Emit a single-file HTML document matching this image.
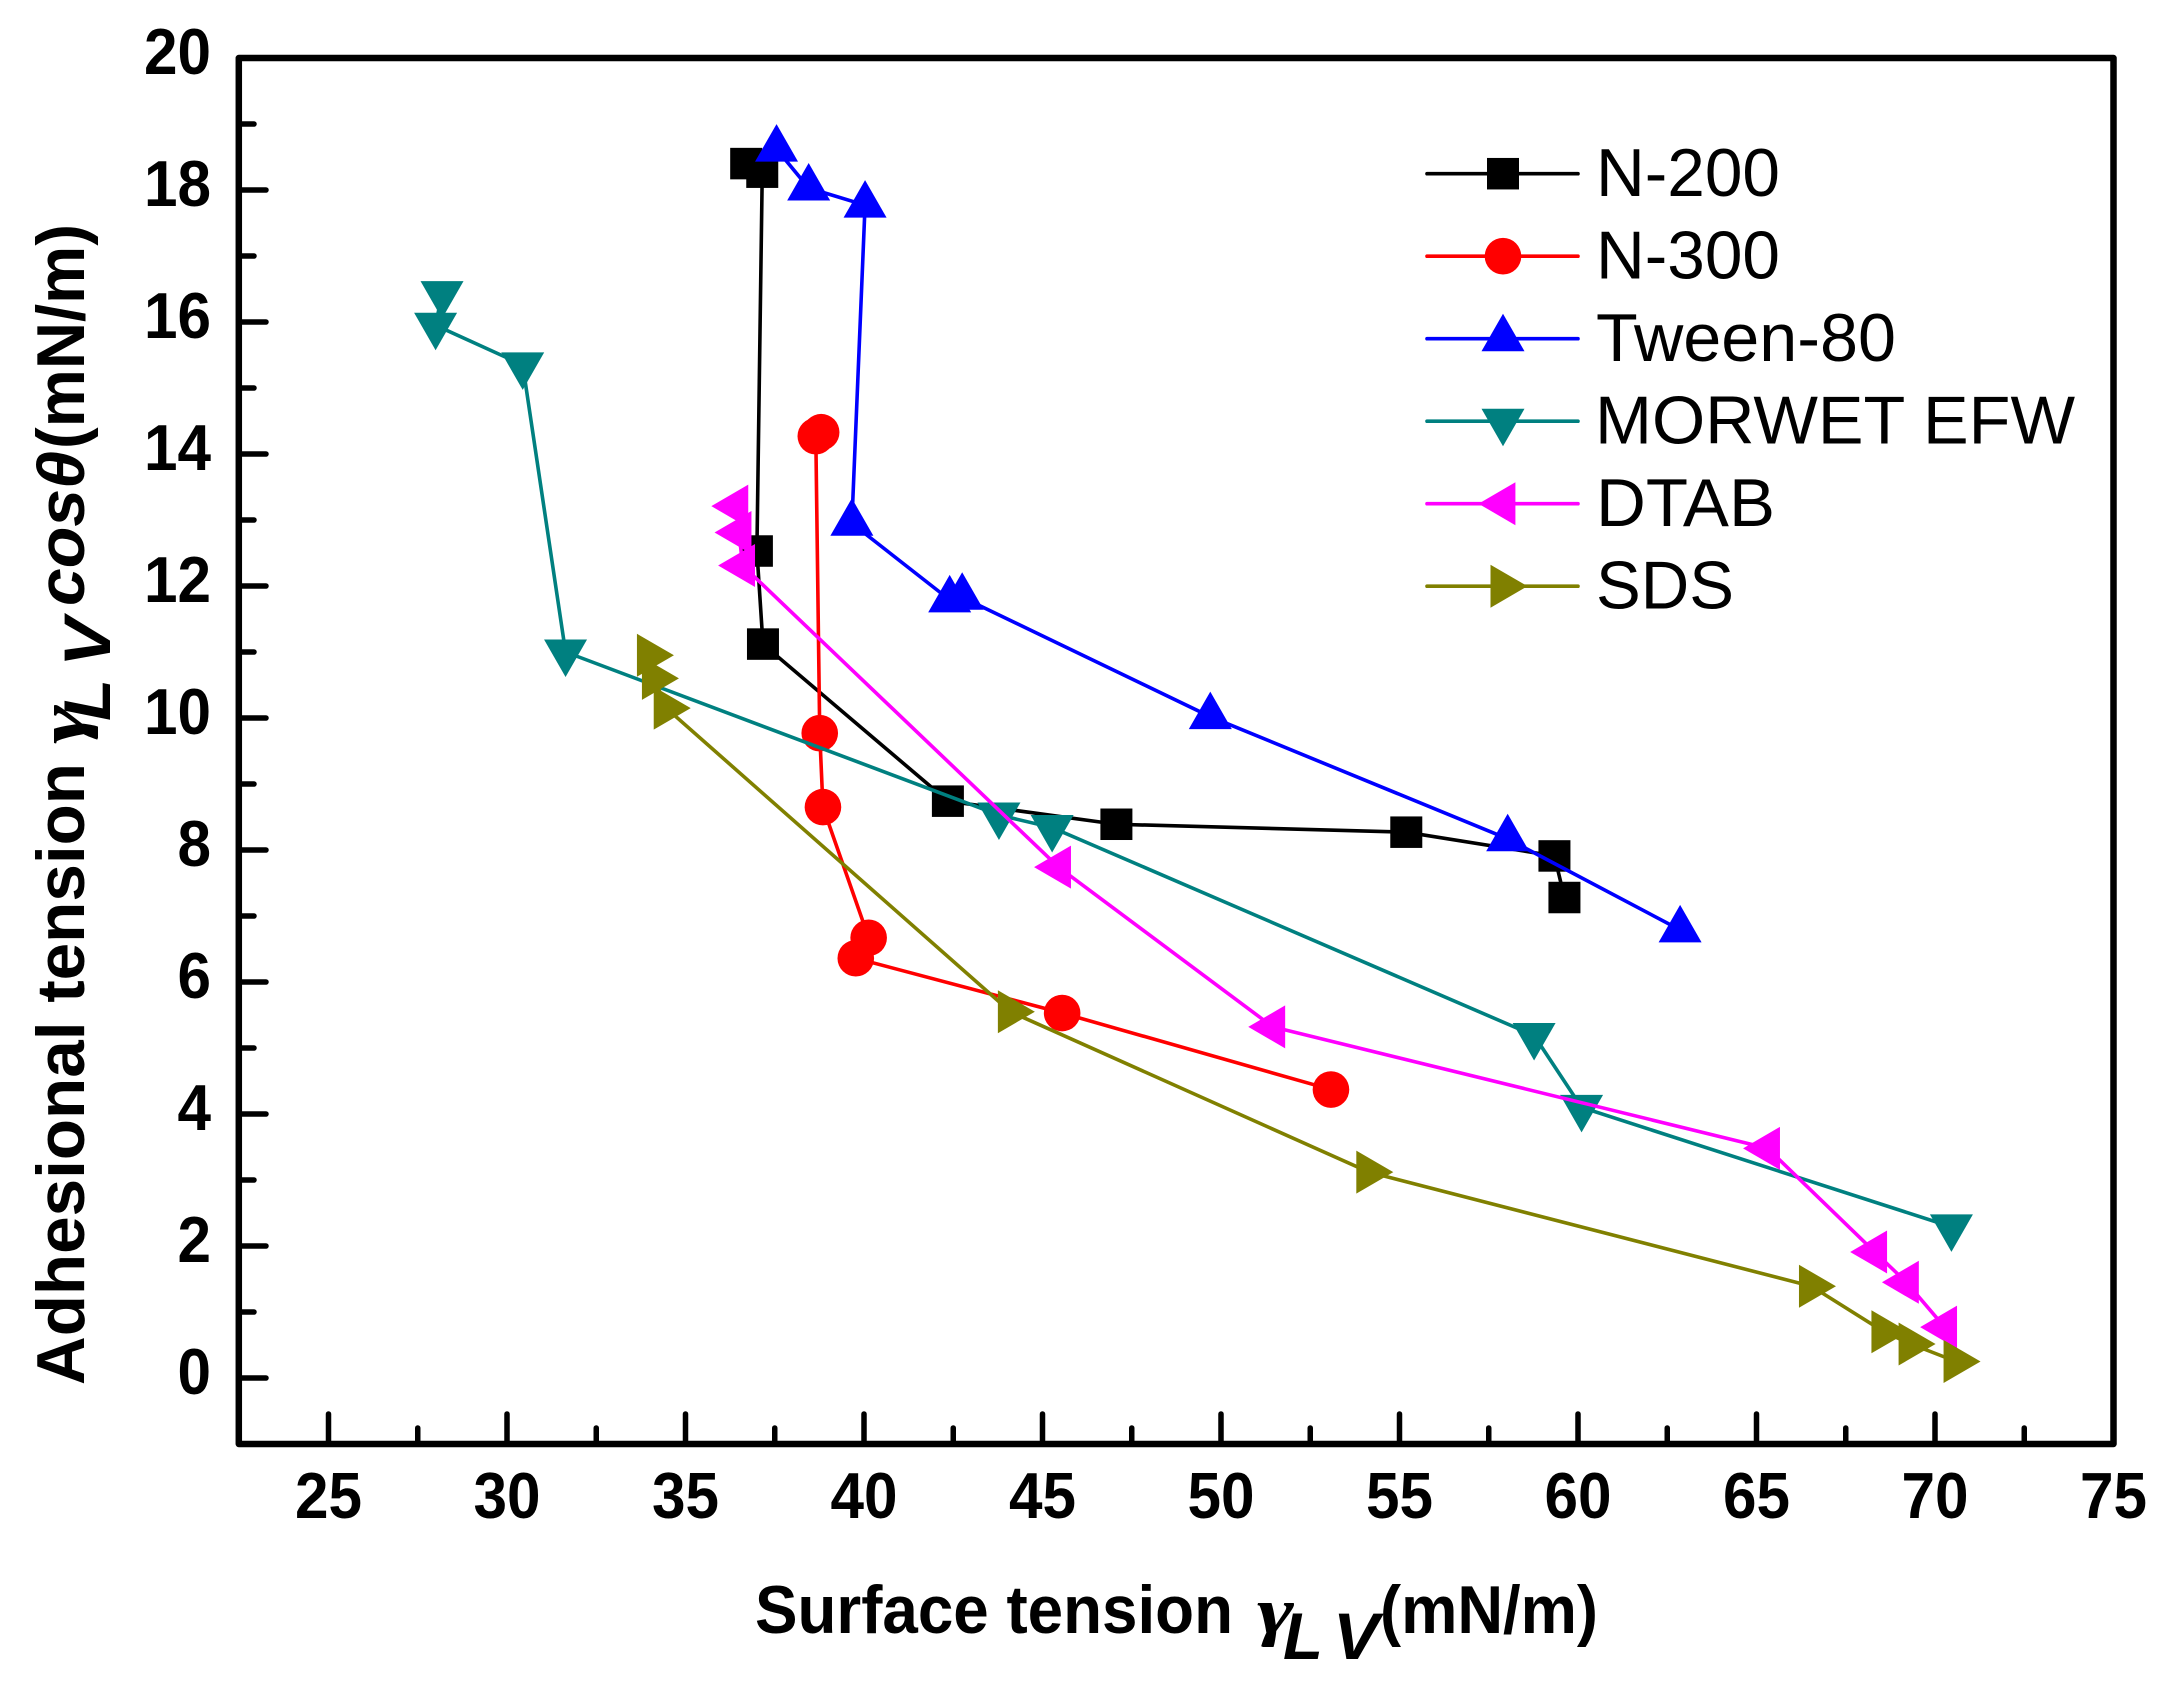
<!DOCTYPE html>
<html lang="en">
<head>
<meta charset="utf-8">
<title>Adhesional tension vs surface tension</title>
<style>
html,body{margin:0;padding:0;background:#fff;}
svg{display:block;}
text{fill:#000;font-family:"Liberation Sans",sans-serif;}
.tick-label{font-weight:bold;font-size:65px;}
.title{font-weight:bold;font-size:68px;}
.ital{font-style:italic;font-weight:bold;font-size:66px;}
.gam{font-family:"Liberation Serif",serif;font-style:italic;font-weight:bold;font-size:66px;}
.leg{font-size:68px;}
</style>
</head>
<body>
<svg id="chart" xmlns="http://www.w3.org/2000/svg" width="2176" height="1693" viewBox="0 0 2176 1693">
  <rect x="0" y="0" width="2176" height="1693" fill="#fff"/>
  <g id="ticks"></g>
  <g id="series"></g>
  <rect x="238.8" y="58" width="1874.7" height="1386" fill="none" stroke="#000" stroke-width="6.5" stroke-linejoin="round"/>
  <g id="labels"></g>

  <g>
    <text class="title" x="755" y="1633" textLength="478" lengthAdjust="spacingAndGlyphs">Surface tension</text>
    <text class="gam" x="1257" y="1633" textLength="37" lengthAdjust="spacingAndGlyphs">γ</text>
    <text class="ital" x="1283" y="1659" textLength="40" lengthAdjust="spacingAndGlyphs">L</text>
    <text class="ital" x="1333" y="1659" textLength="46" lengthAdjust="spacingAndGlyphs">V</text>
    <text class="title" x="1380" y="1633" textLength="218" lengthAdjust="spacingAndGlyphs">(mN/m)</text>
  </g>

  <g>
    <text class="title" transform="translate(84,1385) rotate(-90)" textLength="622" lengthAdjust="spacingAndGlyphs">Adhesional tension</text>
    <text class="gam" transform="translate(84,744) rotate(-90)" textLength="39" lengthAdjust="spacingAndGlyphs">γ</text>
    <text class="ital" transform="translate(110,721) rotate(-90)" textLength="42" lengthAdjust="spacingAndGlyphs">L</text>
    <text class="ital" transform="translate(110,667) rotate(-90)" textLength="49" lengthAdjust="spacingAndGlyphs">V</text>
    <text class="ital" transform="translate(84,606) rotate(-90)" textLength="155" lengthAdjust="spacingAndGlyphs">cosθ</text>
    <text class="title" transform="translate(84,449) rotate(-90)" textLength="225" lengthAdjust="spacingAndGlyphs">(mN/m)</text>
  </g>

  <g id="legend"></g>
</svg>
<script>
var xTickLabels = [25, 30, 35, 40, 45, 50, 55, 60, 65, 70, 75];
var xMinorTicks = [27.5, 32.5, 37.5, 42.5, 47.5, 52.5, 57.5, 62.5, 67.5, 72.5];
var yTickLabels = [0, 2, 4, 6, 8, 10, 12, 14, 16, 18, 20];
var yMinorTicks = [1, 3, 5, 7, 9, 11, 13, 15, 17, 19];

var n200X = [36.7, 37.15, 37.0, 37.17, 42.35, 47.07, 55.19, 59.34, 59.62];
var n200Y = [18.4, 18.27, 12.53, 11.12, 8.74, 8.39, 8.27, 7.91, 7.28];
var n300X = [38.8, 38.65, 38.76, 38.85, 40.13, 39.77, 45.55, 53.08];
var n300Y = [14.33, 14.27, 9.77, 8.65, 6.67, 6.36, 5.53, 4.37];
var tweenX = [37.55, 38.45, 40.03, 39.66, 42.4, 42.75, 49.7, 58.03, 62.86];
var tweenY = [18.62, 18.03, 17.77, 12.95, 11.79, 11.83, 10.02, 8.17, 6.79];
var morwetX = [28.18, 28.0, 30.44, 31.64, 43.78, 45.27, 58.77, 60.1, 70.46];
var morwetY = [16.43, 15.95, 15.35, 11.0, 8.53, 8.34, 5.19, 4.1, 2.29];
var dtabX = [36.41, 36.5, 36.6, 45.45, 51.45, 65.31, 68.31, 69.2, 70.27];
var dtabY = [13.21, 12.81, 12.31, 7.74, 5.32, 3.48, 1.91, 1.45, 0.77];
var sdsX = [33.99, 34.13, 34.46, 44.1, 54.14, 66.54, 68.57, 69.33, 70.59];
var sdsY = [10.95, 10.6, 10.15, 5.55, 3.12, 1.39, 0.7, 0.515, 0.25];

var seriesNames = ['N-200', 'N-300', 'Tween-80', 'MORWET EFW', 'DTAB', 'SDS'];

var NS = 'http://www.w3.org/2000/svg';
function xScale(v) { return 328.5 + 35.7 * (v - 25); }
function yScale(v) { return 1378 - 66 * v; }

function make(tag, attrs, parent) {
  var el = document.createElementNS(NS, tag);
  for (var k in attrs) { el.setAttribute(k, attrs[k]); }
  parent.appendChild(el);
  return el;
}

function drawMarker(kind, cx, cy, color, parent, name) {
  var el;
  if (kind === 'square') {
    el = make('rect', { x: cx - 16, y: cy - 15.75, width: 32, height: 31.5, fill: color }, parent);
  } else if (kind === 'circle') {
    el = make('circle', { cx: cx, cy: cy, r: 18.3, fill: color }, parent);
  } else {
    var pts;
    if (kind === 'up') { pts = [[cx, cy - 25], [cx + 21.5, cy + 12.5], [cx - 21.5, cy + 12.5]]; }
    if (kind === 'down') { pts = [[cx, cy + 25], [cx + 21.5, cy - 12.5], [cx - 21.5, cy - 12.5]]; }
    if (kind === 'left') { pts = [[cx - 24.5, cy], [cx + 12.4, cy - 21.5], [cx + 12.4, cy + 21.5]]; }
    if (kind === 'right') { pts = [[cx + 24.5, cy], [cx - 12.5, cy - 21.5], [cx - 12.5, cy + 21.5]]; }
    el = make('polygon', { points: pts.map(function (p) { return p.join(','); }).join(' '), fill: color }, parent);
  }
  
  
}

var ticksG = document.getElementById('ticks');
var labelsG = document.getElementById('labels');

xTickLabels.forEach(function (v) {
  if (v !== 75) {
    var t = make('line', { x1: xScale(v), x2: xScale(v), y1: 1444, y2: 1414, stroke: '#000', 'stroke-width': 5.5, 'stroke-linecap': 'round' }, ticksG);
    
    
  }
  var l = make('text', { x: xScale(v), y: 1518, 'text-anchor': 'middle', 'class': 'tick-label', textLength: 67, lengthAdjust: 'spacingAndGlyphs' }, labelsG);
  l.textContent = String(v);
  
  
});
xMinorTicks.forEach(function (v) {
  var t = make('line', { x1: xScale(v), x2: xScale(v), y1: 1444, y2: 1428, stroke: '#000', 'stroke-width': 5.5, 'stroke-linecap': 'round' }, ticksG);
  
  
});
yTickLabels.forEach(function (v) {
  if (v !== 20) {
    var t = make('line', { x1: 238.8, x2: 266, y1: yScale(v), y2: yScale(v), stroke: '#000', 'stroke-width': 5.5, 'stroke-linecap': 'round' }, ticksG);
    
    
  }
  var s = String(v);
  var l = make('text', { x: 211, y: yScale(v) + 16, 'text-anchor': 'end', 'class': 'tick-label', textLength: s.length * 33.5, lengthAdjust: 'spacingAndGlyphs' }, labelsG);
  l.textContent = s;
  
  
});
yMinorTicks.forEach(function (v) {
  var t = make('line', { x1: 238.8, x2: 254, y1: yScale(v), y2: yScale(v), stroke: '#000', 'stroke-width': 5.5, 'stroke-linecap': 'round' }, ticksG);
  
  
});

var seriesG = document.getElementById('series');
var seriesX = [n200X, n300X, tweenX, morwetX, dtabX, sdsX];
var seriesY = [n200Y, n300Y, tweenY, morwetY, dtabY, sdsY];
var seriesColors = ['#000000', '#ff0000', '#0000ff', '#008080', '#ff00ff', '#808000'];
var seriesMarkers = ['square', 'circle', 'up', 'down', 'left', 'right'];
var legendKeys = ['n-200', 'n-300', 'tween-80', 'morwet-efw', 'dtab', 'sds'];

seriesNames.forEach(function (name, i) {
  var g = make('g', {}, seriesG);
  
  
  var pts = seriesX[i].map(function (x, j) { return xScale(x) + ',' + yScale(seriesY[i][j]); }).join(' ');
  var line = make('polyline', { points: pts, fill: 'none', stroke: seriesColors[i], 'stroke-width': 3.6 }, g);
  
  
  seriesX[i].forEach(function (x, j) {
    drawMarker(seriesMarkers[i], xScale(x), yScale(seriesY[i][j]), seriesColors[i], g, 'point-' + legendKeys[i]);
  });
});

var legendG = document.getElementById('legend');
var legendTextX = [1596, 1596, 1596, 1595, 1596, 1596];
var legendTextW = [184, 184, 300, 480, 179, 138];
seriesNames.forEach(function (name, i) {
  var ly = 173.7 + i * 82.5;
  var g = make('g', {}, legendG);
  
  
  var ln = make('line', { x1: 1427, x2: 1578, y1: ly, y2: ly, stroke: seriesColors[i], 'stroke-width': 3.6, 'stroke-linecap': 'round' }, g);
  
  
  drawMarker(seriesMarkers[i], 1503, ly, seriesColors[i], g, 'legend-marker');
  var t = make('text', { x: legendTextX[i], y: ly + 22.5, 'class': 'leg', textLength: legendTextW[i], lengthAdjust: 'spacingAndGlyphs' }, g);
  t.textContent = name;
  
  
});
</script>
</body>
</html>
